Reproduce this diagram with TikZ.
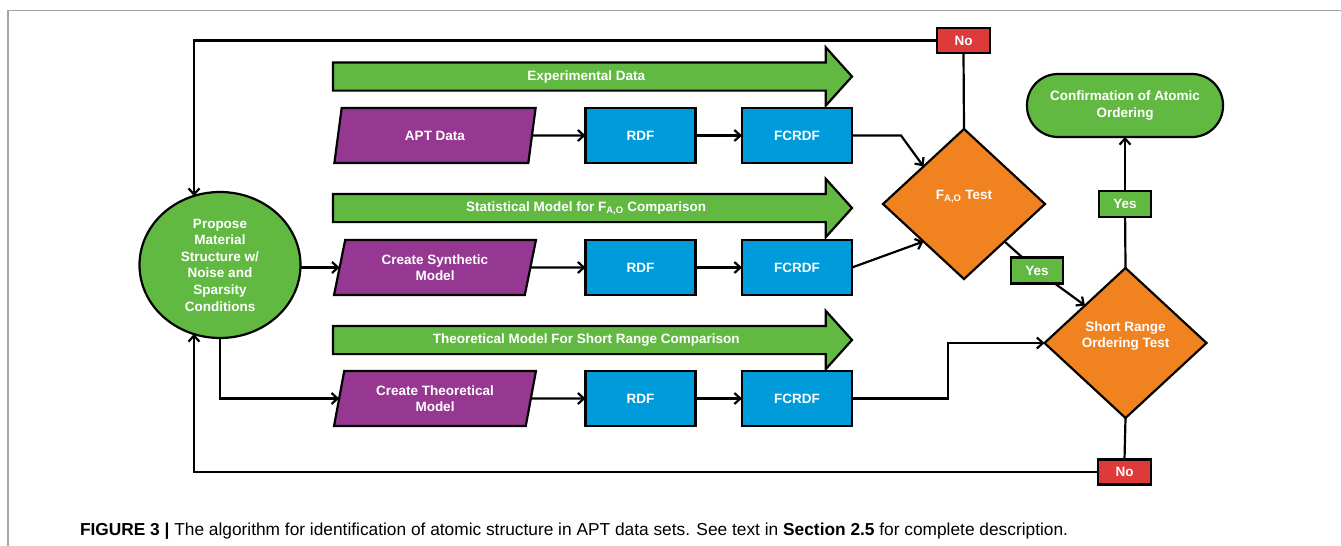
\documentclass[tikz,border=0pt]{standalone}
\usepackage{fontspec}
\setmainfont{Liberation Sans}
\usetikzlibrary{shapes.geometric,shapes.arrows,arrows.meta,calc}
\definecolor{cgreen}{RGB}{98,185,66}
\definecolor{cpurple}{RGB}{150,56,146}
\definecolor{cblue}{RGB}{0,155,218}
\definecolor{corange}{RGB}{240,130,32}
\definecolor{cred}{RGB}{222,58,58}
\begin{document}
\begin{tikzpicture}[x=1pt,y=-1pt,
  every node/.style={font=\fontsize{13.5}{16.6}\selectfont\bfseries, text=white, inner sep=0pt, outer sep=0pt, align=center},
  outl/.style={draw=black, line width=2.2pt},
  procbox/.style={outl, rectangle, fill=cblue, minimum width=110pt, minimum height=55pt},
  databox/.style={outl, trapezium, trapezium left angle=76, trapezium right angle=104, trapezium stretches=true, fill=cpurple, minimum width=202pt, minimum height=55pt},
  band/.style={outl, single arrow, fill=cgreen, minimum height=519pt, single arrow head extend=15pt, single arrow tip angle=96, inner ysep=6.5pt, text height=10pt, text depth=3pt},
  decision/.style={outl, diamond, fill=corange, minimum width=162pt, minimum height=150pt},
  yesbox/.style={outl, rectangle, fill=cgreen, minimum width=52pt, minimum height=26pt},
  nobox/.style={outl, rectangle, fill=cred, minimum width=53pt, minimum height=25pt},
  conn/.style={draw=black, line width=2.2pt},
  arr/.style={conn, -{Straight Barb[length=6pt,width=11pt]}},
]
\useasboundingbox (0,0) rectangle (1341,546);
\draw[gray!70, line width=1.3pt] (8,546) -- (8,10.5) -- (1341,10.5);

% start node
\node[ellipse, outl, fill=cgreen, minimum width=161pt, minimum height=146pt] (prop) at (220,265)
  {Propose\\Material\\Structure w/\\Noise and\\Sparsity\\Conditions};

% bands
\node[band, anchor=tail] (b1) at (333,76.5) {Experimental Data};
\node[band, anchor=tail] (b2) at (333,208) {Statistical Model for F\textsubscript{A,O} Comparison};
\node[band, anchor=tail] (b3) at (333,340) {Theoretical Model For Short Range Comparison};

% rows
\node[databox] (apt) at (435,135.5) {APT Data};
\node[procbox] (rdf1) at (640.5,135.5) {RDF};
\node[procbox] (fc1) at (797,135.5) {FCRDF};
\node[databox] (cs) at (435,267.5) {Create Synthetic\\Model};
\node[procbox] (rdf2) at (640.5,267.5) {RDF};
\node[procbox] (fc2) at (797,267.5) {FCRDF};
\node[databox] (ct) at (435,398.5) {Create Theoretical\\Model};
\node[procbox] (rdf3) at (640.5,398.5) {RDF};
\node[procbox] (fc3) at (797,398.5) {FCRDF};

% decisions
\node[decision, label={[name=fatext, yshift=7pt]center:F\textsubscript{A,O} Test}] (fa) at (964,204) {};
\node[decision, label={[name=srtext, yshift=7pt]center:Short Range\\Ordering Test}] (sr) at (1125.5,343) {};
\node[outl, rectangle, rounded corners=31pt, fill=cgreen, minimum width=196pt, minimum height=63pt] (conf) at (1125,105.5) {Confirmation of Atomic\\Ordering};

\node[yesbox] (yes1) at (1037,270.5) {Yes};
\node[yesbox] (yes2) at (1125,204) {Yes};
\node[nobox] (no1) at (963.5,40.5) {No};
\node[nobox] (no2) at (1124.5,472) {No};

\coordinate (ptop) at (194,196);
\coordinate (pbot) at (194,334);

% connectors
\draw[arr] (apt.east) -- (rdf1.west);
\draw[arr] (rdf1.east) -- (fc1.west);
\draw[arr] (cs.east) -- (rdf2.west);
\draw[arr] (rdf2.east) -- (fc2.west);
\draw[arr] (ct.east) -- (rdf3.west);
\draw[arr] (rdf3.east) -- (fc3.west);
\draw[arr] (prop.east |- cs.west) -- (cs.west);
\draw[arr] (prop.south) |- (ct.west);
\draw[arr] (fc1.east) -- ++(49,0) -- (fa.north west);
\draw[arr] (fc2.east) -- (fa.south west);
\draw[arr] (fc3.east) -- ++(96,0) |- (sr.west);
\draw[conn] (fa.south east) -- (yes1);
\draw[arr] (yes1) -- (sr.north west);
\draw[conn] (sr.north) -- (yes2);
\draw[arr] (yes2) -- (conf.south);
\draw[conn] (fa.north) -- (no1.south);
\draw[arr] (no1.west) -| (ptop);
\draw[conn] (sr.south) -- (no2.north);
\draw[arr] (no2.west) -| (pbot);

% caption
\node[anchor=west, text=black, font=\fontsize{15.5}{18}\selectfont\mdseries] (cap) at (80,531)
  {\resizebox{988pt}{!}{\textbf{FIGURE 3 |} The algorithm for identification of atomic structure in APT data sets. See text in \textbf{Section 2.5} for complete description.}};
\end{tikzpicture}
\end{document}
